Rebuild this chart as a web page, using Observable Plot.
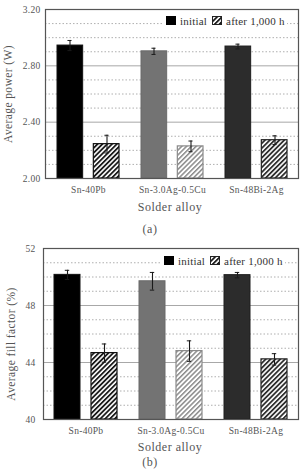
<!DOCTYPE html>
<html>
<head>
<meta charset="utf-8">
<script src="https://cdn.jsdelivr.net/npm/d3@7"></script>
<script src="https://cdn.jsdelivr.net/npm/@observablehq/plot@0.6"></script>
<style>
  body { margin: 0; background: #fff; }
  #wrap { position: relative; width: 300px; height: 470px; overflow: hidden; background: #fff;
          font-family: "Liberation Serif", "DejaVu Serif", serif; color: #555; }
  .ylab { position: absolute; transform: translate(-50%, -50%) rotate(-90deg); white-space: nowrap; font-size: 11.5px; letter-spacing: 0.4px; }
  .xlab { position: absolute; transform: translate(-50%, -50%); white-space: nowrap; font-size: 12px; letter-spacing: 0.5px; }
  .legend { position: absolute; background: #fff; display: flex; align-items: center; font-size: 11px; color: #333; height: 13px; padding: 0 2px 0 3px; letter-spacing: 0.2px; }
  .sw { display: inline-block; width: 10px; height: 9px; margin-right: 4px; }
</style>
</head>
<body>
<div id="wrap">
  <svg width="0" height="0" style="position:absolute">
    <defs>
      <pattern id="hatchDark" patternUnits="userSpaceOnUse" width="3.4" height="3.4" patternTransform="rotate(45)">
        <rect width="3.4" height="3.4" fill="#fff"></rect>
        <rect width="1.8" height="3.4" fill="#1a1a1a"></rect>
      </pattern>
      <pattern id="hatchGray" patternUnits="userSpaceOnUse" width="3.4" height="3.4" patternTransform="rotate(45)">
        <rect width="3.4" height="3.4" fill="#fff"></rect>
        <rect width="1.5" height="3.4" fill="#8a8a8a"></rect>
      </pattern>
      <pattern id="hatchDark2" patternUnits="userSpaceOnUse" width="3.4" height="3.4" patternTransform="rotate(45)">
        <rect width="3.4" height="3.4" fill="#fff"></rect>
        <rect width="1.8" height="3.4" fill="#2e2e2e"></rect>
      </pattern>
    </defs>
  </svg>
</div>
<script>
// ---- data ----
const alloys = ["Sn-40Pb", "Sn-3.0Ag-0.5Cu", "Sn-48Bi-2Ag"];
const seriesNames = ["initial", "after 1,000 h"];

const powerInitial    = [2.944, 2.903, 2.937];
const powerInitialErr = [0.036, 0.022, 0.017];
const powerAfter      = [2.244, 2.228, 2.272];
const powerAfterErr   = [0.063, 0.038, 0.031];

const ffInitial    = [50.15, 49.70, 50.13];
const ffInitialErr = [0.32, 0.62, 0.19];
const ffAfter      = [44.66, 44.80, 44.22];
const ffAfterErr   = [0.64, 0.72, 0.40];

const powerTicks = [2.00, 2.40, 2.80, 3.20];
const powerMinor = [2.1, 2.2, 2.3, 2.5, 2.6, 2.7, 2.9, 3.0, 3.1];
const ffTicks = [40, 44, 48, 52];
const ffMinor = [41, 42, 43, 45, 46, 47, 49, 50, 51];

const initialFill   = ["#000000", "#737373", "#2c2c2c"];
const initialStroke = ["#111111", "#6a6a6a", "#1e1e1e"];
const afterFill     = ["url(#hatchDark)", "url(#hatchGray)", "url(#hatchDark2)"];
const afterStroke   = ["#111111", "#8a8a8a", "#222222"];

const wrap = document.getElementById("wrap");

function panel(cfg) {
  const W = 300, ML = cfg.ml, MR = 2;
  const bw = (W - ML - MR) / alloys.length;
  const ini = alloys.map((a, i) => ({alloy: a, v: cfg.ini[i], e: cfg.iniErr[i], fill: initialFill[i], stroke: initialStroke[i]}));
  const aft = alloys.map((a, i) => ({alloy: a, v: cfg.aft[i], e: cfg.aftErr[i], fill: afterFill[i], stroke: afterStroke[i]}));
  const barW = 26, outer = 11, off = 18.5;
  const capHalf = 2.2;
  const plot = Plot.plot({
    width: W, height: cfg.h,
    marginTop: 9, marginBottom: cfg.mb, marginLeft: ML, marginRight: MR,
    style: {fontFamily: "'Liberation Serif', 'DejaVu Serif', serif", fontSize: "9.5px", color: "#555", background: "transparent", overflow: "visible"},
    x: {domain: alloys, padding: 0, label: null, tickSize: 0, tickPadding: 8},
    y: {domain: cfg.domain, ticks: cfg.ticks, tickFormat: cfg.fmt, tickSize: 0, tickPadding: cfg.tp, label: null},
    color: {type: "identity"},
    marks: [
      Plot.ruleY(cfg.minor, {stroke: "#9a9a9a", strokeDasharray: "1.5,2", strokeWidth: 0.8}),
      Plot.ruleY(cfg.ticks.slice(1, -1), {stroke: "#a8a8a8", strokeWidth: 1}),
      Plot.barY(ini, {x: "alloy", y1: cfg.domain[0], y2: "v", fill: "fill", stroke: "stroke", strokeWidth: 1,
        insetLeft: outer, insetRight: bw - outer - barW}),
      Plot.barY(aft, {x: "alloy", y1: cfg.domain[0], y2: "v", fill: "fill", stroke: "stroke", strokeWidth: 1.2,
        insetLeft: bw - outer - barW, insetRight: outer}),
      Plot.ruleX(ini, {x: "alloy", y1: d => d.v - d.e, y2: d => d.v + d.e, dx: -off, stroke: "#1a1a1a", strokeWidth: 1.1}),
      Plot.ruleX(aft, {x: "alloy", y1: d => d.v - d.e, y2: d => d.v + d.e, dx: off, stroke: "#1a1a1a", strokeWidth: 1.1}),
      Plot.tickY(ini, {x: "alloy", y: d => d.v + d.e, dx: -off, insetLeft: bw / 2 - capHalf, insetRight: bw / 2 - capHalf, stroke: "#1a1a1a"}),
      Plot.tickY(ini, {x: "alloy", y: d => d.v - d.e, dx: -off, insetLeft: bw / 2 - capHalf, insetRight: bw / 2 - capHalf, stroke: "#1a1a1a"}),
      Plot.tickY(aft, {x: "alloy", y: d => d.v + d.e, dx: off, insetLeft: bw / 2 - capHalf, insetRight: bw / 2 - capHalf, stroke: "#1a1a1a"}),
      Plot.tickY(aft, {x: "alloy", y: d => d.v - d.e, dx: off, insetLeft: bw / 2 - capHalf, insetRight: bw / 2 - capHalf, stroke: "#1a1a1a"}),
      Plot.frame({stroke: "#555", strokeWidth: 1.2})
    ]
  });
  plot.style.position = "absolute";
  plot.style.left = "0px";
  plot.style.top = cfg.top + "px";
  d3.select(plot).selectAll("text").style("letter-spacing", "0.3px");
  wrap.appendChild(plot);

  // axis titles and caption
  const yl = document.createElement("div");
  yl.className = "ylab"; yl.textContent = cfg.ylabel;
  yl.style.left = cfg.ylx + "px"; yl.style.top = cfg.yly + "px";
  wrap.appendChild(yl);
  const xl = document.createElement("div");
  xl.className = "xlab"; xl.textContent = "Solder alloy";
  xl.style.left = "170px"; xl.style.top = cfg.xly + "px";
  wrap.appendChild(xl);
  const cap = document.createElement("div");
  cap.className = "xlab"; cap.textContent = cfg.caption;
  cap.style.left = "150px"; cap.style.top = cfg.capy + "px";
  wrap.appendChild(cap);

  // legend
  const lg = document.createElement("div");
  lg.className = "legend";
  lg.style.left = cfg.lgx + "px"; lg.style.top = cfg.lgy + "px";
  lg.innerHTML =
    `<span class="sw" style="background:#000"></span><span>${seriesNames[0]}</span>` +
    `<svg width="10" height="9" style="margin:0 4px 0 5px"><rect x="0.5" y="0.5" width="9" height="8" fill="url(#hatchDark)" stroke="#222"></rect></svg><span>${seriesNames[1]}</span>`;
  wrap.appendChild(lg);
}

panel({
  top: 0, h: 218, mb: 40, ml: 45, tp: 5,
  domain: [2.0, 3.2], ticks: powerTicks, minor: powerMinor, fmt: d3.format(".2f"),
  ini: powerInitial, iniErr: powerInitialErr, aft: powerAfter, aftErr: powerAfterErr,
  ylabel: "Average power (W)", ylx: 8, yly: 94, xly: 207, caption: "(a)", capy: 229,
  lgx: 163, lgy: 14
});

panel({
  top: 239, h: 231, mb: 51, ml: 43, tp: 8,
  domain: [40, 52], ticks: ffTicks, minor: ffMinor, fmt: d3.format("d"),
  ini: ffInitial, iniErr: ffInitialErr, aft: ffAfter, aftErr: ffAfterErr,
  ylabel: "Average fill factor (%)", ylx: 11, yly: 344, xly: 447, caption: "(b)", capy: 462,
  lgx: 161, lgy: 254
});
</script>
</body>
</html>
